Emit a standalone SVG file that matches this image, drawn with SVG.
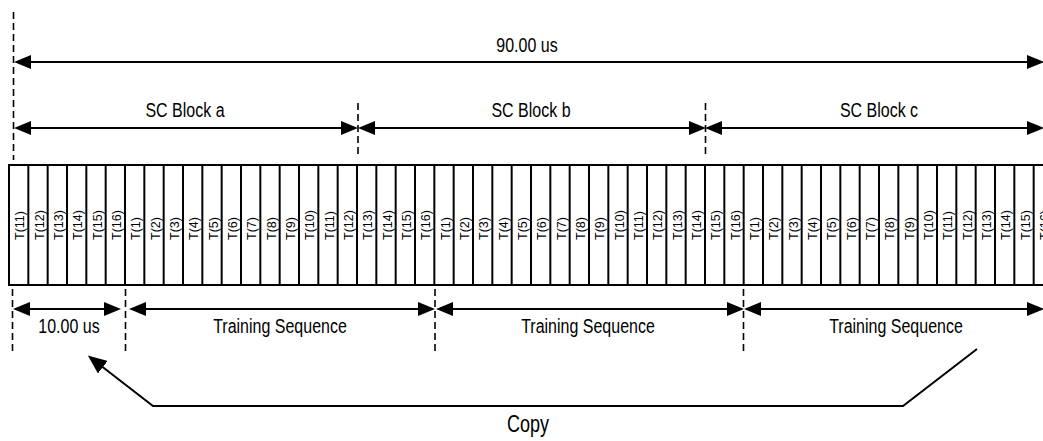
<svg xmlns="http://www.w3.org/2000/svg" width="1043" height="441" viewBox="0 0 1043 441">
<style>
.t{font-family:"Liberation Sans",Arial,sans-serif;font-size:16px;fill:#000;text-anchor:middle}
.c{font-family:"Liberation Sans",Arial,sans-serif;font-size:12.5px;fill:#000}
.ln{stroke:#000;stroke-width:2;fill:none}
.dim{stroke:#000;stroke-width:2;fill:none;marker-start:url(#ah);marker-end:url(#ah)}
.dash{stroke:#000;stroke-width:1.6;stroke-dasharray:7,4;fill:none}
</style>
<defs>
<marker id="ah" markerUnits="userSpaceOnUse" markerWidth="17" markerHeight="14" refX="13" refY="7" orient="auto-start-reverse">
<path d="M0,0 L17,7 L0,14 z" fill="#000"/>
</marker>
<marker id="ah2" markerUnits="userSpaceOnUse" markerWidth="19" markerHeight="16" refX="15" refY="8" orient="auto">
<path d="M0,0 L19,8 L0,16 z" fill="#000"/>
</marker>
</defs>
<rect width="1043" height="441" fill="#fff"/>
<g id="cells">
<rect x="9" y="165" width="1050" height="120" class="ln"/>
<g id="dividers" stroke="#000" stroke-width="2">
<line x1="28.33" y1="165" x2="28.33" y2="285"/><line x1="47.67" y1="165" x2="47.67" y2="285"/><line x1="67" y1="165" x2="67" y2="285"/><line x1="86.33" y1="165" x2="86.33" y2="285"/><line x1="105.67" y1="165" x2="105.67" y2="285"/><line x1="125" y1="165" x2="125" y2="285"/><line x1="144.33" y1="165" x2="144.33" y2="285"/><line x1="163.67" y1="165" x2="163.67" y2="285"/><line x1="183" y1="165" x2="183" y2="285"/><line x1="202.33" y1="165" x2="202.33" y2="285"/><line x1="221.67" y1="165" x2="221.67" y2="285"/><line x1="241" y1="165" x2="241" y2="285"/><line x1="260.33" y1="165" x2="260.33" y2="285"/><line x1="279.67" y1="165" x2="279.67" y2="285"/><line x1="299" y1="165" x2="299" y2="285"/><line x1="318.33" y1="165" x2="318.33" y2="285"/><line x1="337.67" y1="165" x2="337.67" y2="285"/><line x1="357" y1="165" x2="357" y2="285"/><line x1="376.33" y1="165" x2="376.33" y2="285"/><line x1="395.67" y1="165" x2="395.67" y2="285"/><line x1="415" y1="165" x2="415" y2="285"/><line x1="434.33" y1="165" x2="434.33" y2="285"/><line x1="453.67" y1="165" x2="453.67" y2="285"/><line x1="473" y1="165" x2="473" y2="285"/><line x1="492.33" y1="165" x2="492.33" y2="285"/><line x1="511.67" y1="165" x2="511.67" y2="285"/><line x1="531" y1="165" x2="531" y2="285"/><line x1="550.33" y1="165" x2="550.33" y2="285"/><line x1="569.67" y1="165" x2="569.67" y2="285"/><line x1="589" y1="165" x2="589" y2="285"/><line x1="608.33" y1="165" x2="608.33" y2="285"/><line x1="627.67" y1="165" x2="627.67" y2="285"/><line x1="647" y1="165" x2="647" y2="285"/><line x1="666.33" y1="165" x2="666.33" y2="285"/><line x1="685.67" y1="165" x2="685.67" y2="285"/><line x1="705" y1="165" x2="705" y2="285"/><line x1="724.33" y1="165" x2="724.33" y2="285"/><line x1="743.67" y1="165" x2="743.67" y2="285"/><line x1="763" y1="165" x2="763" y2="285"/><line x1="782.33" y1="165" x2="782.33" y2="285"/><line x1="801.67" y1="165" x2="801.67" y2="285"/><line x1="821" y1="165" x2="821" y2="285"/><line x1="840.33" y1="165" x2="840.33" y2="285"/><line x1="859.67" y1="165" x2="859.67" y2="285"/><line x1="879" y1="165" x2="879" y2="285"/><line x1="898.33" y1="165" x2="898.33" y2="285"/><line x1="917.67" y1="165" x2="917.67" y2="285"/><line x1="937" y1="165" x2="937" y2="285"/><line x1="956.33" y1="165" x2="956.33" y2="285"/><line x1="975.67" y1="165" x2="975.67" y2="285"/><line x1="995" y1="165" x2="995" y2="285"/><line x1="1014.33" y1="165" x2="1014.33" y2="285"/><line x1="1033.67" y1="165" x2="1033.67" y2="285"/>
</g>
<g id="cell-labels">
<text class="c" transform="translate(24.4,240) rotate(-90)">T(11)</text>
<text class="c" transform="translate(43.73,240) rotate(-90)">T(12)</text>
<text class="c" transform="translate(63.07,240) rotate(-90)">T(13)</text>
<text class="c" transform="translate(82.4,240) rotate(-90)">T(14)</text>
<text class="c" transform="translate(101.73,240) rotate(-90)">T(15)</text>
<text class="c" transform="translate(121.07,240) rotate(-90)">T(16)</text>
<text class="c" transform="translate(140.4,240) rotate(-90)">T(1)</text>
<text class="c" transform="translate(159.73,240) rotate(-90)">T(2)</text>
<text class="c" transform="translate(179.07,240) rotate(-90)">T(3)</text>
<text class="c" transform="translate(198.4,240) rotate(-90)">T(4)</text>
<text class="c" transform="translate(217.73,240) rotate(-90)">T(5)</text>
<text class="c" transform="translate(237.07,240) rotate(-90)">T(6)</text>
<text class="c" transform="translate(256.4,240) rotate(-90)">T(7)</text>
<text class="c" transform="translate(275.73,240) rotate(-90)">T(8)</text>
<text class="c" transform="translate(295.07,240) rotate(-90)">T(9)</text>
<text class="c" transform="translate(314.4,240) rotate(-90)">T(10)</text>
<text class="c" transform="translate(333.73,240) rotate(-90)">T(11)</text>
<text class="c" transform="translate(353.07,240) rotate(-90)">T(12)</text>
<text class="c" transform="translate(372.4,240) rotate(-90)">T(13)</text>
<text class="c" transform="translate(391.73,240) rotate(-90)">T(14)</text>
<text class="c" transform="translate(411.07,240) rotate(-90)">T(15)</text>
<text class="c" transform="translate(430.4,240) rotate(-90)">T(16)</text>
<text class="c" transform="translate(449.73,240) rotate(-90)">T(1)</text>
<text class="c" transform="translate(469.07,240) rotate(-90)">T(2)</text>
<text class="c" transform="translate(488.4,240) rotate(-90)">T(3)</text>
<text class="c" transform="translate(507.73,240) rotate(-90)">T(4)</text>
<text class="c" transform="translate(527.07,240) rotate(-90)">T(5)</text>
<text class="c" transform="translate(546.4,240) rotate(-90)">T(6)</text>
<text class="c" transform="translate(565.73,240) rotate(-90)">T(7)</text>
<text class="c" transform="translate(585.07,240) rotate(-90)">T(8)</text>
<text class="c" transform="translate(604.4,240) rotate(-90)">T(9)</text>
<text class="c" transform="translate(623.73,240) rotate(-90)">T(10)</text>
<text class="c" transform="translate(643.07,240) rotate(-90)">T(11)</text>
<text class="c" transform="translate(662.4,240) rotate(-90)">T(12)</text>
<text class="c" transform="translate(681.73,240) rotate(-90)">T(13)</text>
<text class="c" transform="translate(701.07,240) rotate(-90)">T(14)</text>
<text class="c" transform="translate(720.4,240) rotate(-90)">T(15)</text>
<text class="c" transform="translate(739.73,240) rotate(-90)">T(16)</text>
<text class="c" transform="translate(759.07,240) rotate(-90)">T(1)</text>
<text class="c" transform="translate(778.4,240) rotate(-90)">T(2)</text>
<text class="c" transform="translate(797.73,240) rotate(-90)">T(3)</text>
<text class="c" transform="translate(817.07,240) rotate(-90)">T(4)</text>
<text class="c" transform="translate(836.4,240) rotate(-90)">T(5)</text>
<text class="c" transform="translate(855.73,240) rotate(-90)">T(6)</text>
<text class="c" transform="translate(875.07,240) rotate(-90)">T(7)</text>
<text class="c" transform="translate(894.4,240) rotate(-90)">T(8)</text>
<text class="c" transform="translate(913.73,240) rotate(-90)">T(9)</text>
<text class="c" transform="translate(933.07,240) rotate(-90)">T(10)</text>
<text class="c" transform="translate(952.4,240) rotate(-90)">T(11)</text>
<text class="c" transform="translate(971.73,240) rotate(-90)">T(12)</text>
<text class="c" transform="translate(991.07,240) rotate(-90)">T(13)</text>
<text class="c" transform="translate(1010.4,240) rotate(-90)">T(14)</text>
<text class="c" transform="translate(1029.73,240) rotate(-90)">T(15)</text>
<text class="c" transform="translate(1049.07,240) rotate(-90)">T(16)</text>
</g>
</g>
<g id="guides">
<line class="dash" x1="13.5" y1="12" x2="13.5" y2="160"/>
<line class="dash" x1="358" y1="103" x2="358" y2="155"/>
<line class="dash" x1="705.5" y1="103" x2="705.5" y2="155"/>
<line class="dash" x1="12.5" y1="289" x2="12.5" y2="353"/>
<line class="dash" x1="125.5" y1="289" x2="125.5" y2="353"/>
<line class="dash" x1="435" y1="289" x2="435" y2="353"/>
<line class="dash" x1="743.5" y1="289" x2="743.5" y2="353"/>
</g>
<g id="connectors">
<line class="dim" x1="18" y1="62" x2="1040" y2="62"/>
<line class="dim" x1="18" y1="128" x2="354" y2="128"/>
<line class="dim" x1="362" y1="128" x2="702" y2="128"/>
<line class="dim" x1="709" y1="128" x2="1040" y2="128"/>
<line class="dim" x1="17" y1="309" x2="117" y2="309"/>
<line class="dim" x1="133" y1="309" x2="431" y2="309"/>
<line class="dim" x1="440" y1="309" x2="740" y2="309"/>
<line class="dim" x1="748" y1="309" x2="1040" y2="309"/>
<polyline id="copy-arrow" class="ln" points="977,349 903,406 153,406 91,358" marker-end="url(#ah2)"/>
</g>
<g id="labels">
<text class="t" transform="translate(527,52) scale(1,1.3)">90.00 us</text>
<text class="t" transform="translate(185,117) scale(1,1.3)">SC Block a</text>
<text class="t" transform="translate(531,117) scale(1,1.3)">SC Block b</text>
<text class="t" transform="translate(879,117) scale(1,1.3)">SC Block c</text>
<text class="t" transform="translate(69,333) scale(1,1.3)">10.00 us</text>
<text class="t" transform="translate(280,333) scale(1,1.3)">Training Sequence</text>
<text class="t" transform="translate(588,333) scale(1,1.3)">Training Sequence</text>
<text class="t" transform="translate(896,333) scale(1,1.3)">Training Sequence</text>
<text class="t" transform="translate(528,432) scale(1,1.3)" style="font-size:18px">Copy</text>
</g>
</svg>
